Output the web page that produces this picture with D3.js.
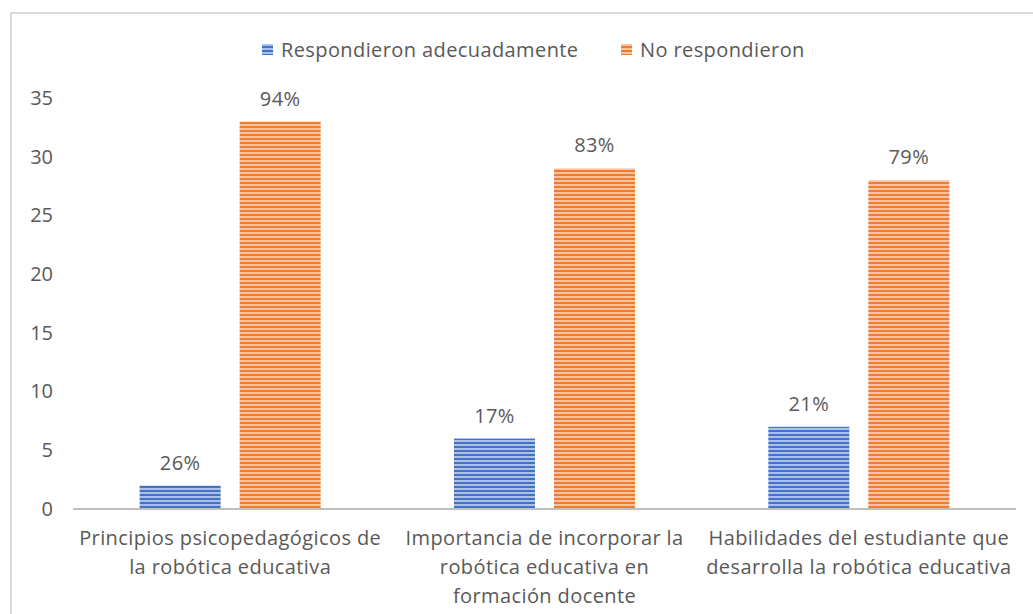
<!DOCTYPE html>
<html>
<head>
<meta charset="utf-8">
<script src="https://cdn.jsdelivr.net/npm/d3@7"></script>
<style>
  body { margin: 0; background: #fff; }
  #wrapper { width: 1033px; height: 614px; }
  text { font-family: "Open Sans", Lato, sans-serif; fill: #595959; }
</style>
</head>
<body>
<div id="wrapper"></div>
<script>
const categories = [
    ['Principios psicopedagógicos de', 'la robótica educativa'],
    ['Importancia de incorporar la', 'robótica educativa en', 'formación docente'],
    ['Habilidades del estudiante que', 'desarrolla la robótica educativa']
]
const seriesNames = ['Respondieron adecuadamente', 'No respondieron']
const adecuadamente = [2, 6, 7]
const noRespondieron = [33, 29, 28]
const labelsAdecuadamente = ['26%', '17%', '21%']
const labelsNo = ['94%', '83%', '79%']
const yTicks = [0, 5, 10, 15, 20, 25, 30, 35]

function renderChart() {
    const dimensions = {
        width: 1033,
        height: 614,
        margins: { top: 98, right: 17, bottom: 105, left: 73 }
    }
    dimensions.boundedWidth = dimensions.width - dimensions.margins.left - dimensions.margins.right
    dimensions.boundedHeight = dimensions.height - dimensions.margins.top - dimensions.margins.bottom

    const colors = [
        { dark: '#4472C4', light: '#A9C0E8' },
        { dark: '#ED7D31', light: '#F8C4A0' }
    ]

    const svg = d3.select('#wrapper')
        .append('svg')
        .attr('width', dimensions.width)
        .attr('height', dimensions.height)

    // striped fills
    const defs = svg.append('defs')
    colors.forEach((c, i) => {
        const p = defs.append('pattern')
            .attr('id', 'stripes' + i)
            .attr('patternUnits', 'userSpaceOnUse')
            .attr('width', 8)
            .attr('height', 4)
        p.append('rect').attr('width', 8).attr('height', 4).attr('fill', c.light)
        p.append('rect').attr('width', 8).attr('height', 2).attr('fill', c.dark)
    })

    // chart frame
    svg.append('rect')
        .attr('x', 11).attr('y', 13)
        .attr('width', 1040).attr('height', 620)
        .attr('fill', 'none')
        .attr('stroke', '#D9D9D9')
        .attr('stroke-width', 2)

    const bounds = svg.append('g')
        .attr('transform', `translate(${dimensions.margins.left}, ${dimensions.margins.top})`)

    const yScale = d3.scaleLinear()
        .domain([0, 35])
        .range([dimensions.boundedHeight, 0])

    const xScale = d3.scaleBand()
        .domain(d3.range(categories.length))
        .range([0, dimensions.boundedWidth])

    const xInner = d3.scaleBand()
        .domain([0, 1])
        .range([-90.5, 90.5])
        .paddingInner(0.19)

    const series = [adecuadamente, noRespondieron]
    const labels = [labelsAdecuadamente, labelsNo]
    const fontSize = '20px'
    const spacing = '0.4px'

    series.forEach((values, s) => {
        const g = bounds.append('g')
        g.selectAll('rect')
            .data(values)
            .join('rect')
            .attr('x', (d, i) => xScale(i) + xScale.bandwidth() / 2 + xInner(s))
            .attr('y', d => yScale(d))
            .attr('width', xInner.bandwidth())
            .attr('height', d => dimensions.boundedHeight - yScale(d))
            .attr('fill', `url(#stripes${s})`)

        g.selectAll('text')
            .data(values)
            .join('text')
            .attr('x', (d, i) => xScale(i) + xScale.bandwidth() / 2 + xInner(s) + xInner.bandwidth() / 2)
            .attr('y', d => yScale(d) - 16)
            .attr('text-anchor', 'middle')
            .style('font-size', fontSize)
            .style('letter-spacing', spacing)
            .text((d, i) => labels[s][i])
    })

    // y axis
    const yAxis = bounds.append('g')
        .call(d3.axisLeft(yScale).tickValues(yTicks).tickSize(0).tickPadding(20))
    yAxis.select('.domain').remove()
    yAxis.selectAll('text').style('font-size', fontSize).attr('fill', '#595959')

    // baseline
    bounds.append('line')
        .attr('x1', 0).attr('x2', dimensions.boundedWidth)
        .attr('y1', dimensions.boundedHeight).attr('y2', dimensions.boundedHeight)
        .attr('stroke', '#BFBFBF')
        .attr('stroke-width', 2)

    // category labels
    const catGroups = bounds.append('g').selectAll('text')
        .data(categories)
        .join('text')
        .attr('transform', (d, i) => `translate(${xScale(i) + xScale.bandwidth() / 2}, ${dimensions.boundedHeight + 36})`)
        .attr('text-anchor', 'middle')
        .style('font-size', fontSize)
        .style('letter-spacing', spacing)
    catGroups.selectAll('tspan')
        .data(d => d)
        .join('tspan')
        .attr('x', 0)
        .attr('y', (d, i) => i * 29)
        .text(d => d)

    // legend
    const legend = svg.append('g').attr('transform', 'translate(262, 50)')
    const legendX = [0, 359]
    seriesNames.forEach((name, i) => {
        const item = legend.append('g').attr('transform', `translate(${legendX[i]}, 0)`)
        item.append('rect')
            .attr('x', 0).attr('y', -6)
            .attr('width', 11).attr('height', 11)
            .attr('fill', `url(#stripes${i})`)
        item.append('text')
            .attr('x', 19).attr('y', 7)
            .style('font-size', fontSize)
            .style('letter-spacing', spacing)
            .text(name)
    })
}

renderChart()
</script>
</body>
</html>
